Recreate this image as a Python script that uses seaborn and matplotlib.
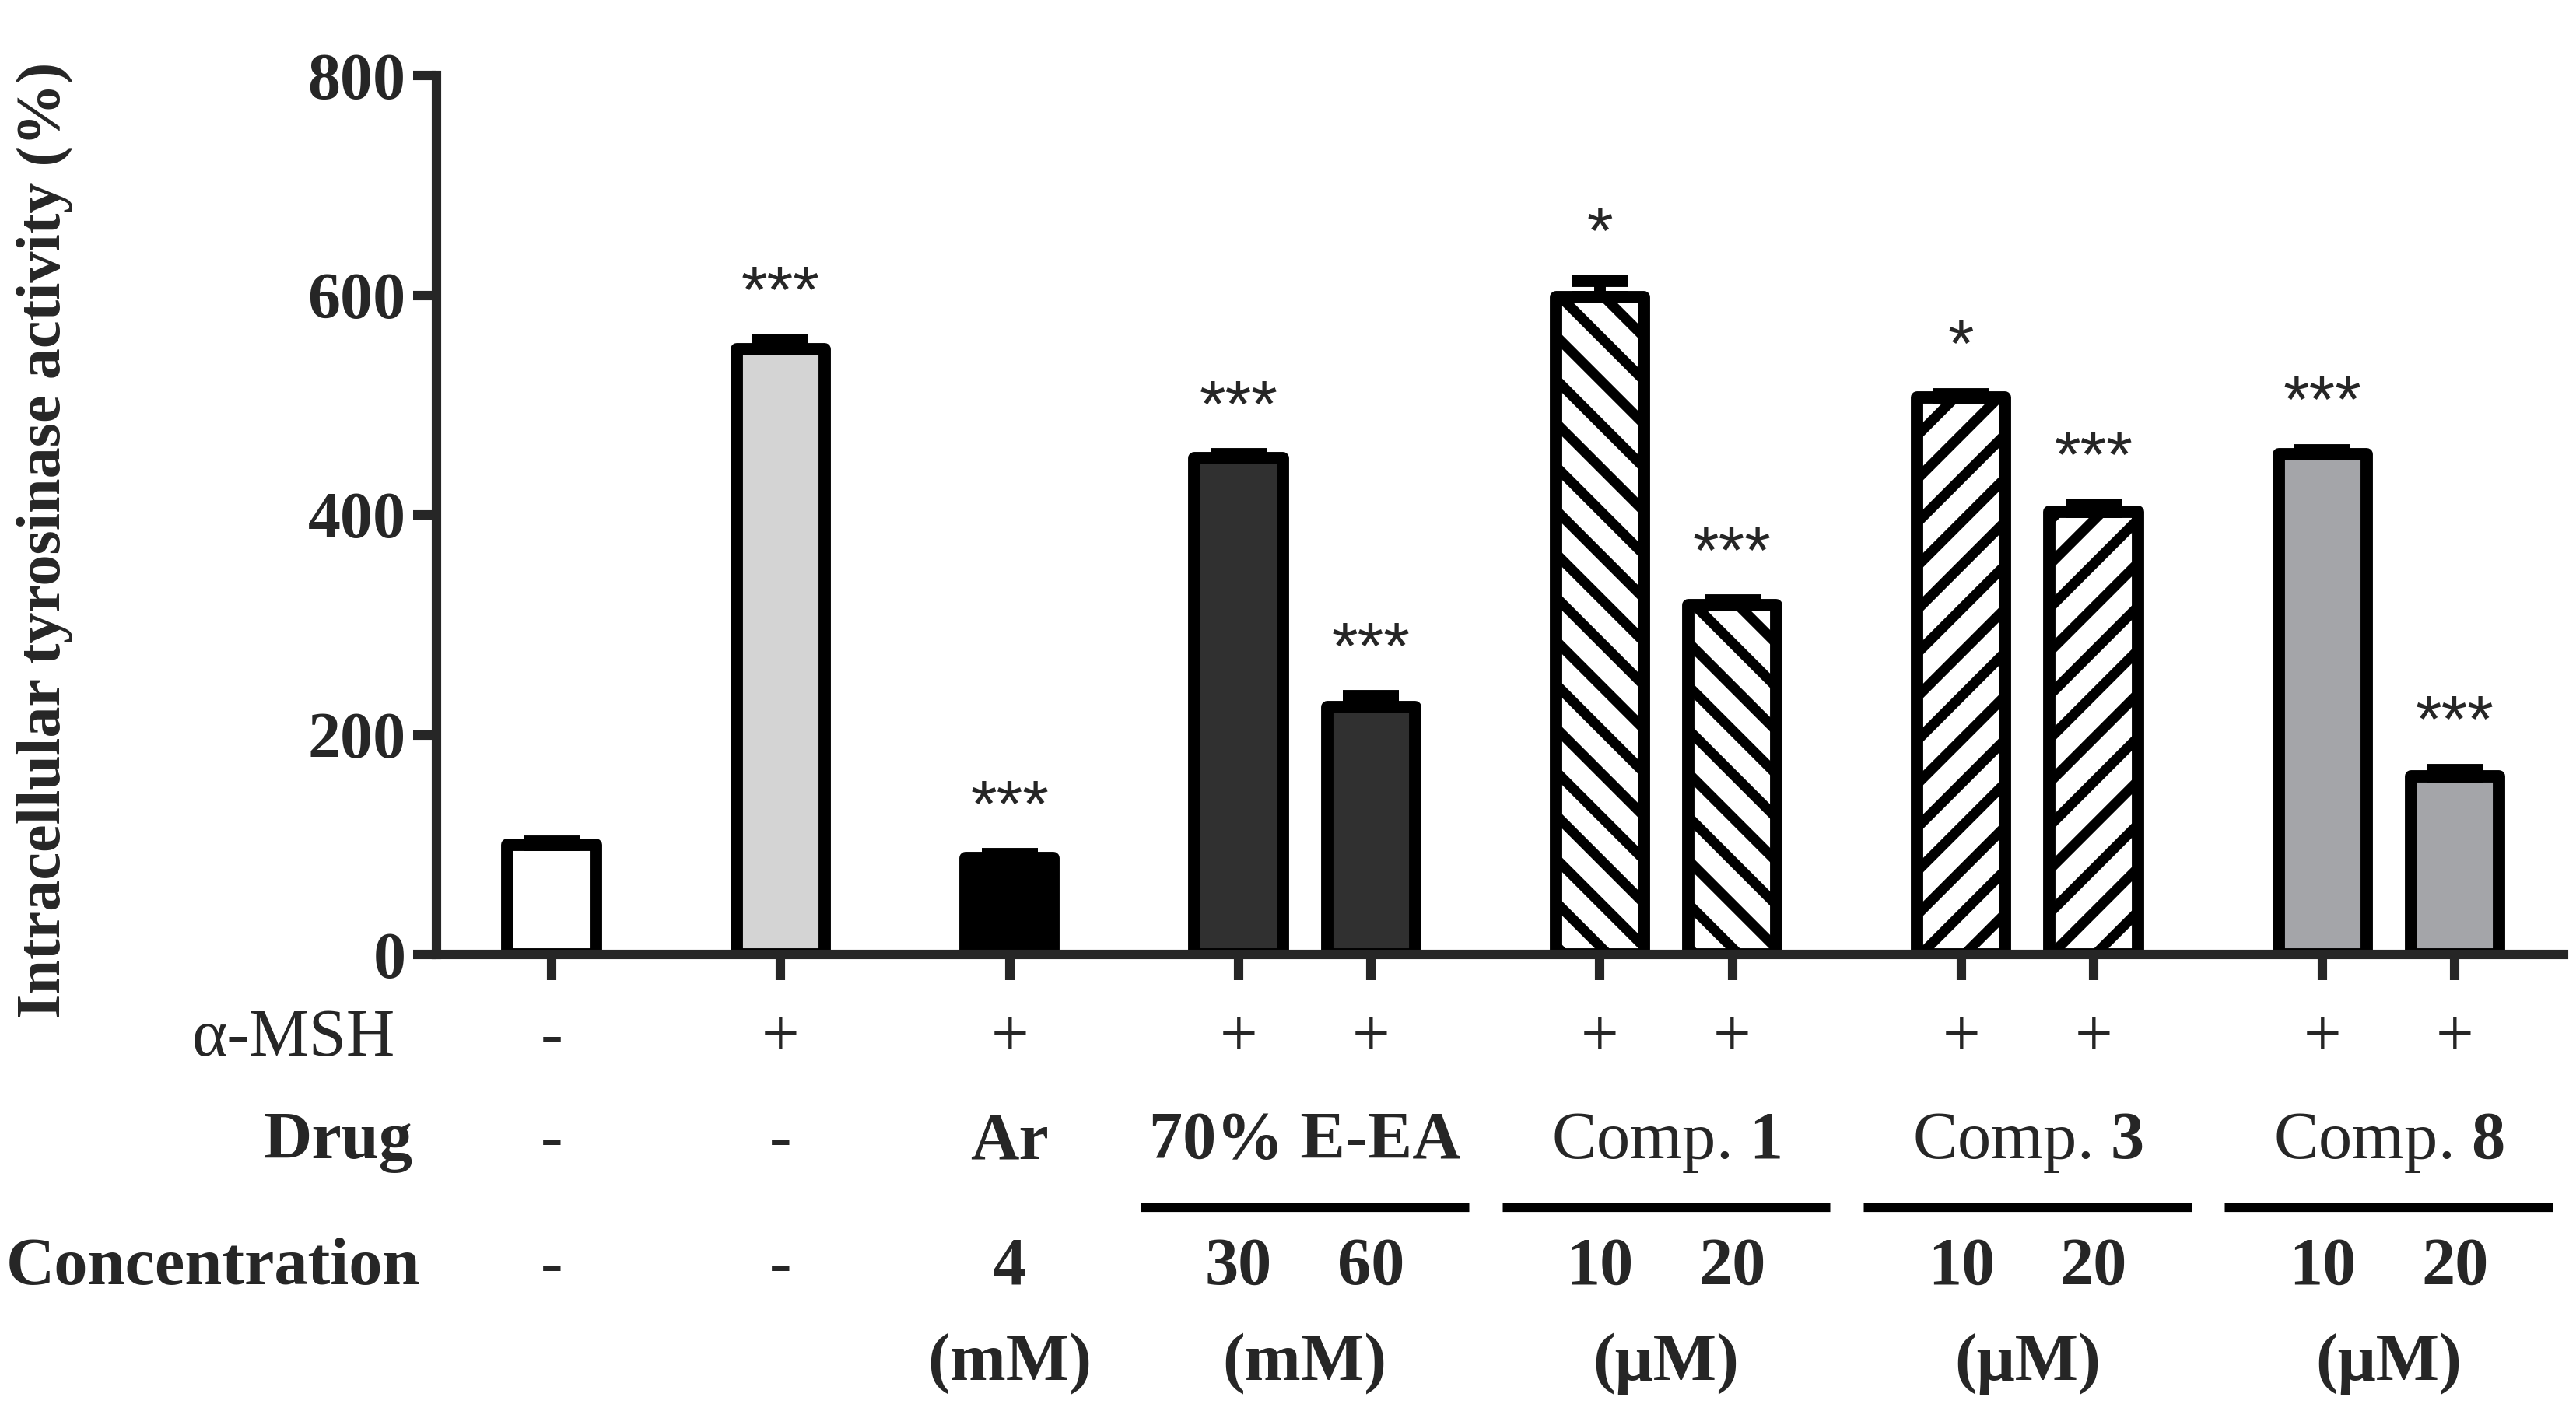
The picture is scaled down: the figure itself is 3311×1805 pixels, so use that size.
import numpy as np
import pandas as pd
import matplotlib
matplotlib.use("Agg")
import matplotlib.pyplot as plt
import matplotlib.transforms as mtransforms
import seaborn as sns

# data
conditions = ["Control", "a-MSH", "Ar 4 mM", "E-EA 30", "E-EA 60",
              "Comp1 10", "Comp1 20", "Comp3 10", "Comp3 20", "Comp8 10", "Comp8 20"]
activity = [100, 551, 88, 452, 225, 598, 318, 507, 403, 455, 162]
sem = [3, 8, 3, 3, 10, 15, 4, 3, 6, 4, 6]
stars = ["", "***", "***", "***", "***", "*", "***", "*", "***", "***", "***"]

msh_row = ["-", "+", "+", "+", "+", "+", "+", "+", "+", "+", "+"]
drug_single = ["-", "-", "Ar"]
conc_row = ["-", "-", "4", "30", "60", "10", "20", "10", "20", "10", "20"]
group_names = ["70% E-EA", "Comp. $\\mathbf{1}$", "Comp. $\\mathbf{3}$", "Comp. $\\mathbf{8}$"]
group_bold = [True, False, False, False]
single_unit = "(mM)"
group_units = ["(mM)", "(\u03bcM)", "(\u03bcM)", "(\u03bcM)"]

bar_colors = ["white", "#d4d4d4", "black", "#303030", "#303030",
              "white", "white", "white", "white", "#a4a5a9", "#a4a5a9"]
bar_hatch = ["", "", "", "", "", "\\\\", "\\\\", "//", "//", "", ""]

# layout: three single bars then four pairs
group_sizes = [1, 1, 1, 2, 2, 2, 2]
step = 1.73
xpos = []
x = 0.0
for size in group_sizes:
    for k in range(size):
        xpos.append(x + k)
    x += (size - 1) + step

DPI = 336
sns.set_style("ticks")
plt.rcParams["font.family"] = ["Liberation Serif", "DejaVu Serif"]
plt.rcParams["mathtext.fontset"] = "custom"
plt.rcParams["mathtext.rm"] = "Liberation Serif"
plt.rcParams["mathtext.bf"] = "Liberation Serif:bold"
plt.rcParams["hatch.linewidth"] = 2.8

df = pd.DataFrame({"pos": xpos, "activity": activity, "condition": conditions})

fig = plt.figure(figsize=(3311 / DPI, 1805 / DPI), dpi=DPI)
ax = fig.add_axes([561 / 3311, 1 - 1227 / 1805, (3295 - 561) / 3311, 1130 / 1805])

sns.barplot(data=df, x="pos", y="activity", hue="condition", hue_order=conditions,
            palette=dict(zip(conditions, bar_colors)), native_scale=True, dodge=False,
            width=0.665, edgecolor="black", linewidth=3.4, errorbar=None,
            legend=False, saturation=1, ax=ax)

for p in ax.patches:
    cx = p.get_x() + p.get_width() / 2
    i = int(np.argmin(np.abs(np.array(xpos) - cx)))
    p.set_hatch(bar_hatch[i])
    p.set_edgecolor("black")
    p.set_joinstyle("round")

ax.errorbar(xpos, activity, yerr=[np.zeros(len(sem)), sem], fmt="none",
            ecolor="black", elinewidth=3.2, capsize=7.7, capthick=3.4, zorder=5)

for xi, a, e, s in zip(xpos, activity, sem, stars):
    if s:
        ax.text(xi, a + e + 25, s, ha="center", va="baseline",
                family="Liberation Sans", fontsize=18.5)

ax.set_xlim(-0.87, 15.2)
ax.set_ylim(0, 800)
ax.set_yticks([0, 200, 400, 600, 800])
ax.set_xticks(xpos)
ax.set_xticklabels([])
ax.set_xlabel("")
ax.set_ylabel("")
sns.despine(ax=ax)
for side in ["left", "bottom"]:
    ax.spines[side].set_linewidth(2.6)
    ax.spines[side].set_capstyle("projecting")
ax.tick_params(axis="y", length=6.4, width=2.6, labelsize=18, pad=2)
ax.tick_params(axis="x", length=7.0, width=2.6)
for lab in ax.get_yticklabels():
    lab.set_fontweight("bold")
    lab.set_family("Liberation Serif")

fig.text(0.0172, 0.6155, "Intracellular tyrosinase activity (%)", rotation=90,
         ha="center", va="center", fontsize=17.2, fontweight="bold",
         family="Liberation Serif")

trans = mtransforms.blended_transform_factory(ax.transData, ax.transAxes)
y_msh, y_drug, y_line, y_conc, y_unit = -0.115, -0.232, -0.288, -0.375, -0.484
fs = 18.5

# row headings
ax.text(-1.18, y_msh, "\u03b1-MSH", transform=trans, ha="right", va="baseline", fontsize=fs)
ax.text(-1.05, y_drug, "Drug", transform=trans, ha="right", va="baseline", fontsize=fs,
        fontweight="bold")
ax.text(-0.99, y_conc, "Concentration", transform=trans, ha="right", va="baseline",
        fontsize=fs, fontweight="bold")

for xi, m, c in zip(xpos, msh_row, conc_row):
    ax.text(xi, y_msh, m, transform=trans, ha="center", va="baseline", fontsize=fs)
    ax.text(xi, y_conc, c, transform=trans, ha="center", va="baseline", fontsize=fs,
            fontweight="bold")

for xi, d in zip(xpos[:3], drug_single):
    ax.text(xi, y_drug, d, transform=trans, ha="center", va="baseline", fontsize=fs,
            fontweight="bold")
ax.text(xpos[2], y_unit, single_unit, transform=trans, ha="center", va="baseline",
        fontsize=fs, fontweight="bold")

for g, (name, bold, unit) in enumerate(zip(group_names, group_bold, group_units)):
    cx = (xpos[3 + 2 * g] + xpos[4 + 2 * g]) / 2
    ax.text(cx, y_drug, name, transform=trans, ha="center", va="baseline", fontsize=fs,
            fontweight="bold" if bold else "normal")
    ax.plot([cx - 1.24, cx + 1.24], [y_line, y_line], transform=trans, color="black",
            lw=2.4, clip_on=False, solid_capstyle="butt")
    ax.text(cx, y_unit, unit, transform=trans, ha="center", va="baseline", fontsize=fs,
            fontweight="bold")

fig.savefig("out.png", dpi=DPI, facecolor="white")
